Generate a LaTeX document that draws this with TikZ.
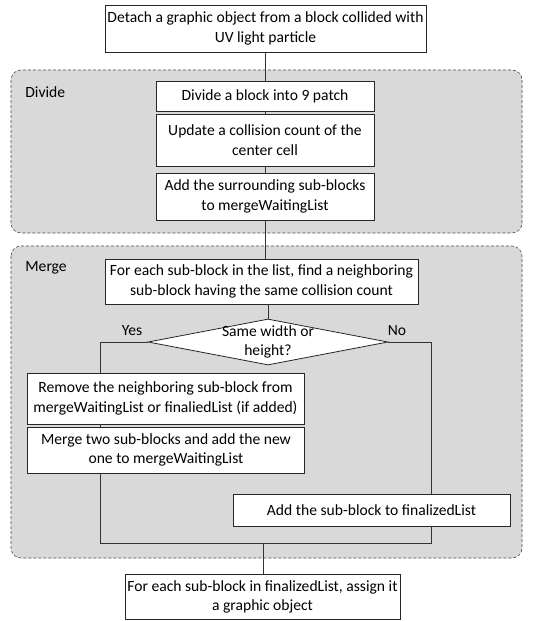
\documentclass[tikz,border=0pt]{standalone}
\usepackage{fontspec}
\setmainfont{Carlito}
\usetikzlibrary{positioning, shapes.geometric}

\tikzset{
  stepbox/.style={draw=black!85, fill=white, align=center, inner sep=0pt, font=\fontsize{15.6}{19.5}\selectfont},
  decision/.style={draw=black!85, fill=white, shape=diamond, inner sep=0pt, aspect=5.2},
  region/.style={draw=black!70, line width=0.6pt, dash pattern=on 3pt off 2pt, fill=black!15, rounded corners=10pt},
  tag/.style={font=\fontsize{15.6}{19.5}\selectfont, inner sep=0pt},
  link/.style={draw=black!80, line width=0.8pt}
}

\begin{document}
\begin{tikzpicture}[x=1pt, y=-1pt, line width=0.8pt]
  \useasboundingbox (0,0) rectangle (546,621);

  % phase backgrounds
  \draw[region] (11,70) rectangle (522,233);
  \draw[region] (11,246) rectangle (522,558);
  \node[tag, anchor=west] (divtag) at (25,92) {Divide};
  \node[tag, anchor=west] (mrgtag) at (25,268) {Merge};

  % junction points
  \coordinate (yescorner) at (100,342);
  \coordinate (nocorner) at (431,342);
  \coordinate (joinl) at (100,543);
  \coordinate (joinr) at (431,543);
  \coordinate (joinm) at (263,543);

  % boxes
  \node[stepbox, minimum width=321, minimum height=47] (detach) at (265.5,28.5) {Detach a graphic object from a block collided with\\UV light particle};
  \node[stepbox, minimum width=218, minimum height=30] (divide) at (265,96) {Divide a block into 9 patch};
  \node[stepbox, minimum width=218, minimum height=52] (update) at (265,140) {Update a collision count of the\\center cell};
  \node[stepbox, minimum width=218, minimum height=47] (addsur) at (265,196.5) {Add the surrounding sub-blocks\\to mergeWaitingList};
  \node[stepbox, minimum width=313, minimum height=45] (foreach) at (261.5,281.5) {For each sub-block in the list, find a neighboring\\sub-block having the same collision count};
  \node[decision, minimum width=240, minimum height=46,
        label={[tag, align=center]center:Same width or\\height?}] (same) at (268,342) {};
  \node[stepbox, minimum width=277, minimum height=51] (remove) at (165.5,398.5) {Remove the neighboring sub-block from\\mergeWaitingList or finaliedList (if added)};
  \node[stepbox, minimum width=277, minimum height=46] (mergetwo) at (166,450) {Merge two sub-blocks and add the new\\one to mergeWaitingList};
  \node[stepbox, minimum width=277, minimum height=32] (addfin) at (371.5,510) {Add the sub-block to finalizedList};
  \node[stepbox, minimum width=275, minimum height=45] (assign) at (262.5,597) {For each sub-block in finalizedList, assign it\\a graphic object};

  \node[tag] (yes) at (132,331) {Yes};
  \node[tag] (no) at (397,331) {No};

  % connectors
  \path[link] (detach.south -| divide.north) -- (divide.north);
  \path[link] (divide) -- (update);
  \path[link] (update) -- (addsur);
  \path[link] (addsur.south) -- (addsur.south |- foreach.north);
  \path[link] (foreach.south -| same.north) -- (same.north);
  \path[link] (same.west) -- (yescorner) -- (yescorner |- remove.north);
  \path[link] (remove.south -| yescorner) -- (mergetwo.north -| yescorner);
  \path[link] (mergetwo.south -| joinl) -- (joinl) -- (joinr) -- (addfin.south -| joinr);
  \path[link] (same.east) -- (nocorner) -- (addfin.north -| nocorner);
  \path[link] (joinm) -- (assign.north -| joinm);
\end{tikzpicture}
\end{document}
